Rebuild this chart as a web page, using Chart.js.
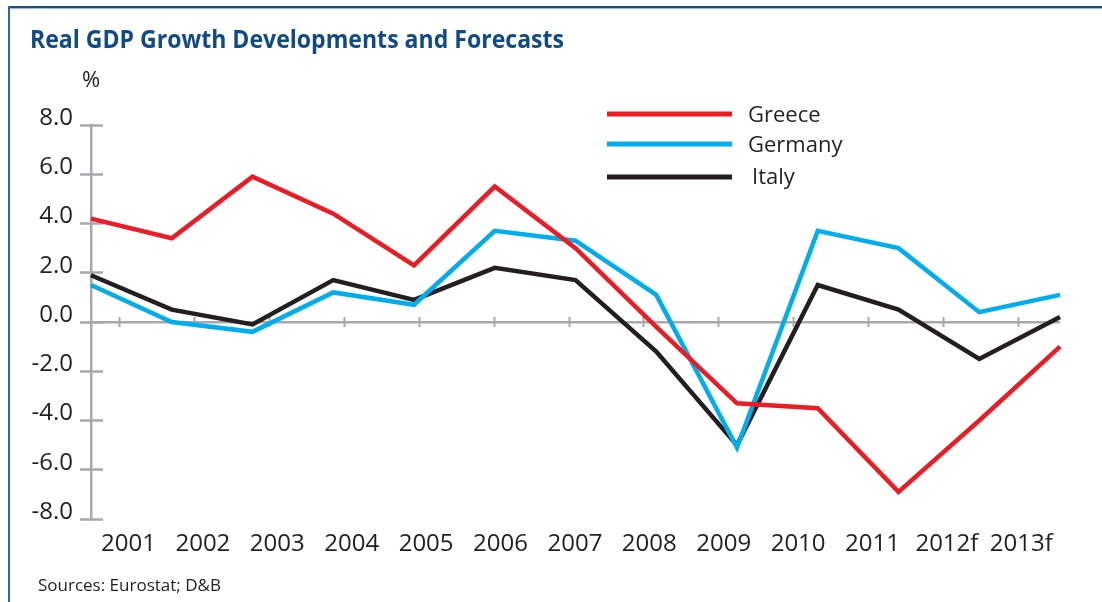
<!DOCTYPE html>
<html>
<head>
<meta charset="utf-8">
<script src="https://cdn.jsdelivr.net/npm/chart.js@4.4.1/dist/chart.umd.min.js"></script>
<style>
  html, body { margin: 0; padding: 0; background: #fff; }
  #wrap { position: relative; width: 1102px; height: 602px; overflow: hidden; background: #fff; }
  #chart { position: absolute; left: 0; top: 0; }
  #frameTop { position: absolute; left: 8px; top: 6px; width: 1094px; height: 2px; background: #1c4f82; }
  #frameTop2 { position: absolute; left: 8px; top: 8px; width: 1094px; height: 1px; background: #9dbbdc; }
  #frameLeft { position: absolute; left: 8px; top: 6px; width: 2px; height: 596px; background: #2f66a3; }
  #title { position: absolute; left: 30px; top: 26px; font: bold 25px "Open Sans", sans-serif; line-height: 25px;
           color: #114b87; white-space: nowrap; transform-origin: 0 0; }
  #pct { position: absolute; left: 82px; top: 67px; font: 22px "Open Sans", sans-serif; line-height: 22px; color: #231f20; }
  #src { position: absolute; left: 38px; top: 576px; font: 17px "Open Sans", sans-serif; line-height: 17px; color: #231f20; white-space: nowrap; }
</style>
</head>
<body>
<div id="wrap">
  <canvas id="chart" width="1102" height="602"></canvas>
  <div id="frameTop"></div>
  <div id="frameTop2"></div>
  <div id="frameLeft"></div>
  <div id="title">Real GDP Growth Developments and Forecasts</div>
  <div id="pct">%</div>
  <div id="src">Sources: Eurostat; D&amp;B</div>
</div>
<script>
// ---- Data ----
const years   = ['2001','2002','2003','2004','2005','2006','2007','2008','2009','2010','2011','2012f','2013f'];
const greece  = [4.2, 3.4, 5.9, 4.4, 2.3, 5.5, 3.0, -0.2, -3.3, -3.5, -6.9, -4.0, -1.0];
const germany = [1.5, 0.0, -0.4, 1.2, 0.7, 3.7, 3.3, 1.1, -5.1, 3.7, 3.0, 0.4, 1.1];
const italy   = [1.9, 0.5, -0.1, 1.7, 0.9, 2.2, 1.7, -1.2, -5.0, 1.5, 0.5, -1.5, 0.2];
const yTicks  = [8, 6, 4, 2, 0, -2, -4, -6, -8];
const seriesNames = ['Greece', 'Germany', 'Italy'];

// ---- Styles ----
const RED = '#ed1c24', CYAN = '#00aeef', BLACK = '#231f20', GRAY = '#a7a9ac', TEXT = '#231f20';

// fit title width
(function () {
  const t = document.getElementById('title');
  const w = t.getBoundingClientRect().width;
  if (w > 0) t.style.transform = 'scaleX(' + (534 / w) + ')';
})();

const toPoints = arr => arr.map((v, i) => ({ x: i, y: v }));
const idxTicks = s => { s.ticks = years.map((_, i) => ({ value: i })); };

const legendLayout = [
  { lineY: 114, textX: 748, baseY: 121.5 },
  { lineY: 144, textX: 748, baseY: 151.5 },
  { lineY: 177, textX: 752, baseY: 184 }
];

const legendPlugin = {
  id: 'refLegend',
  afterDraw(chart) {
    const ctx = chart.ctx;
    ctx.save();
    chart.data.datasets.forEach((ds, i) => {
      const L = legendLayout[i];
      ctx.strokeStyle = ds.borderColor;
      ctx.lineWidth = 5;
      ctx.lineCap = 'butt';
      ctx.beginPath();
      ctx.moveTo(607, L.lineY);
      ctx.lineTo(732, L.lineY);
      ctx.stroke();
      ctx.fillStyle = TEXT;
      ctx.font = '22px "Open Sans"';
      ctx.textBaseline = 'alphabetic';
      ctx.textAlign = 'left';
      ctx.fillText(ds.label, L.textX, L.baseY);
    });
    ctx.restore();
  }
};

const lineDs = (label, data, color) => ({
  label, data: toPoints(data), borderColor: color, backgroundColor: color,
  borderWidth: 4.5, pointRadius: 0, pointHoverRadius: 0, tension: 0,
  borderJoinStyle: 'miter', borderCapStyle: 'butt', fill: false, clip: 8,
  xAxisID: 'x', yAxisID: 'y'
});

new Chart(document.getElementById('chart'), {
  type: 'line',
  data: {
    datasets: [
      lineDs(seriesNames[0], greece, RED),
      lineDs(seriesNames[1], germany, CYAN),
      lineDs(seriesNames[2], italy, BLACK)
    ]
  },
  options: {
    responsive: false,
    animation: false,
    events: [],
    layout: { padding: { top: 125, right: 42, left: 0, bottom: 0 } },
    plugins: { legend: { display: false }, tooltip: { enabled: false }, title: { display: false } },
    scales: {
      x: { type: 'linear', display: false, min: 0, max: 12 },
      xl: {
        type: 'linear', position: 'bottom', min: -0.504, max: 12.52, bounds: 'data',
        afterBuildTicks: idxTicks,
        afterFit: s => { s.height = 83; },
        grid: { display: false, drawTicks: false },
        border: { display: false },
        ticks: { callback: v => years[v], color: TEXT, font: { family: 'Open Sans', size: 24 }, padding: 11, maxRotation: 0, autoSkip: false }
      },
      xt: {
        type: 'linear', position: { y: 0.203 }, min: -0.3875, max: 12.561, bounds: 'data',
        afterBuildTicks: idxTicks,
        grid: { drawOnChartArea: false, drawTicks: true, tickLength: 10, tickColor: GRAY, tickWidth: 2 },
        border: { display: false },
        ticks: { display: false }
      },
      y: {
        type: 'linear', position: 'left', min: -8, max: 8,
        afterBuildTicks: s => { s.ticks = yTicks.map(v => ({ value: v })); },
        afterFit: s => { s.width = 91; },
        border: { display: true, color: GRAY, width: 2.5 },
        grid: {
          drawOnChartArea: true, drawTicks: true, tickLength: 11, tickColor: 'rgba(0,0,0,0)',
          color: c => (c.tick && c.tick.value === 0) ? GRAY : 'rgba(0,0,0,0)', lineWidth: 2.5
        },
        ticks: { callback: v => v.toFixed(1), color: TEXT, font: { family: 'Open Sans', size: 24 }, padding: 7, labelOffset: -7 }
      },
      y2: {
        type: 'linear', position: { x: 0.1486 }, min: -8, max: 8,
        afterBuildTicks: s => { s.ticks = yTicks.map(v => ({ value: v })); },
        border: { display: false },
        grid: { drawOnChartArea: false, drawTicks: true, tickLength: 23, tickColor: GRAY, tickWidth: 2.5 },
        ticks: { display: false }
      }
    }
  },
  plugins: [legendPlugin]
});
</script>
</body>
</html>
